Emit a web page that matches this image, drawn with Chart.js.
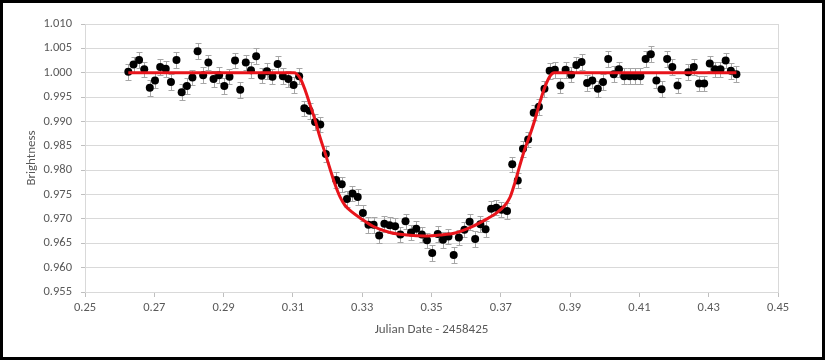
<!DOCTYPE html>
<html>
<head>
<meta charset="utf-8">
<script src="https://cdn.jsdelivr.net/npm/chart.js@4.4.1/dist/chart.umd.min.js"></script>
<style>
  body { margin: 0; background: #fff; }
  #wrap { position: relative; width: 825px; height: 360px; }
  #frame { position: absolute; left: 0; top: 0; width: 825px; height: 360px; box-sizing: border-box; border: 3px solid #000; pointer-events: none; }
  canvas { position: absolute; left: 0; top: 0; }
</style>
</head>
<body>
<div id="wrap">
  <canvas id="lightCurve" width="825" height="360"></canvas>
  <div id="frame"></div>
</div>
<script>
// tick labels
const xTicks = [0.25, 0.27, 0.29, 0.31, 0.33, 0.35, 0.37, 0.39, 0.41, 0.43, 0.45]
const yTicks = [0.955, 0.960, 0.965, 0.970, 0.975, 0.980, 0.985, 0.990, 0.995, 1.000, 1.005, 1.010]

// observations (Julian Date - 2458425, relative brightness)
const obsDate = [
  0.2625, 0.2640, 0.2656, 0.2671, 0.2687, 0.2702, 0.2717, 0.2733, 0.2748, 0.2764,
  0.2779, 0.2794, 0.2810, 0.2825, 0.2841, 0.2856, 0.2871, 0.2887, 0.2902, 0.2917,
  0.2933, 0.2948, 0.2964, 0.2979, 0.2994, 0.3010, 0.3025, 0.3041, 0.3056, 0.3071,
  0.3087, 0.3102, 0.3118, 0.3133, 0.3148, 0.3164, 0.3179, 0.3195,
  0.3225, 0.3241, 0.3256, 0.3272, 0.3287, 0.3302, 0.3318, 0.3333, 0.3349, 0.3364, 0.3379,
  0.3395, 0.3410, 0.3425, 0.3441, 0.3456, 0.3472, 0.3487, 0.3502, 0.3518, 0.3533,
  0.3549, 0.3564, 0.3579, 0.3595, 0.3610, 0.3626, 0.3641, 0.3656, 0.3672, 0.3687,
  0.3702, 0.3718, 0.3733, 0.3749, 0.3764, 0.3779, 0.3795, 0.3810, 0.3826, 0.3841,
  0.3856, 0.3872, 0.3887, 0.3903, 0.3918, 0.3933, 0.3949, 0.3964, 0.3980, 0.3995,
  0.4010, 0.4026, 0.4041, 0.4056, 0.4072, 0.4087, 0.4103, 0.4118, 0.4133, 0.4149,
  0.4164, 0.4180, 0.4195, 0.4210,
  0.4241, 0.4257, 0.4272, 0.4287, 0.4303, 0.4318, 0.4334, 0.4349, 0.4364, 0.4380
]
const obsBright = [
  1.0002, 1.0017, 1.0026, 1.0007, 0.9969, 0.9984, 1.0012, 1.0008, 0.9981, 1.0026,
  0.9960, 0.9973, 0.9990, 1.0044, 0.9995, 1.0021, 0.9987, 0.9995, 0.9973, 0.9992,
  1.0025, 0.9965, 1.0021, 1.0005, 1.0034, 0.9994, 1.0003, 0.9992, 1.0018, 0.9993,
  0.9987, 0.9975, 0.9993, 0.9927, 0.9922, 0.9899, 0.9894, 0.9833,
  0.9780, 0.9771, 0.9741, 0.9752, 0.9745, 0.9712, 0.9688, 0.9688, 0.9666, 0.9690, 0.9687,
  0.9685, 0.9668, 0.9695, 0.9672, 0.9680, 0.9668, 0.9656, 0.9630, 0.9669, 0.9657,
  0.9664, 0.9626, 0.9662, 0.9678, 0.9694, 0.9659, 0.9689, 0.9679, 0.9721, 0.9723,
  0.9719, 0.9716, 0.9812, 0.9779, 0.9844, 0.9863, 0.9918, 0.9930, 0.9967, 1.0004,
  1.0006, 0.9974, 1.0006, 0.9996, 1.0016, 1.0022, 0.9979, 0.9984, 0.9967, 0.9981,
  1.0028, 0.9997, 1.0007, 0.9993, 0.9993, 0.9993, 0.9993, 1.0028, 1.0038, 0.9984,
  0.9966, 1.0028, 1.0012, 0.9974,
  1.0001, 1.0012, 0.9978, 0.9978, 1.0019, 1.0007, 1.0007, 1.0025, 1.0004, 0.9997
]
const errBar = 0.0016

// fitted transit model
const modelDate = [
  0.2625, 0.3103, 0.3120, 0.3135, 0.3149, 0.3164, 0.3178, 0.3193, 0.3207, 0.3222,
  0.3236, 0.3250, 0.3271, 0.3294, 0.3331, 0.3380, 0.3429, 0.3481, 0.3525, 0.3568,
  0.3611, 0.3660, 0.3689, 0.3712, 0.3727, 0.3741, 0.3755, 0.3770, 0.3784, 0.3799,
  0.3813, 0.3828, 0.3842, 0.3854, 0.4380
]
const modelBright = [
  1.0000, 1.0000, 0.9990, 0.9965, 0.9935, 0.9903, 0.9868, 0.9835, 0.9803, 0.9770,
  0.9745, 0.9728, 0.9714, 0.9702, 0.9685, 0.9672, 0.9667, 0.9665, 0.9667, 0.9671,
  0.9682, 0.9700, 0.9713, 0.9728, 0.9745, 0.9775, 0.9810, 0.9845, 0.9872, 0.9905,
  0.9940, 0.9972, 0.9993, 1.0000, 1.0000
]

const textColor = "#595959"
const fontFamily = "Carlito, 'Liberation Sans Narrow', 'DejaVu Sans Condensed', 'Liberation Sans', sans-serif"

// grey frame round the plot area
const plotFrame = {
    id: "plotFrame",
    beforeDatasetsDraw(chart) {
        const { ctx, chartArea } = chart
        ctx.save()
        ctx.strokeStyle = "#d9d9d9"
        ctx.lineWidth = 1
        ctx.strokeRect(Math.round(chartArea.left) + 0.5, Math.round(chartArea.top) + 0.5,
            Math.round(chartArea.right - chartArea.left), Math.round(chartArea.bottom - chartArea.top))
        ctx.restore()
    }
}

// error bars under the dots
const errorBars = {
    id: "errorBars",
    beforeDatasetsDraw(chart) {
        const { ctx, scales } = chart
        ctx.save()
        ctx.strokeStyle = "#a6a6a6"
        ctx.lineWidth = 1
        obsDate.forEach((d, i) => {
            const px = Math.round(scales.x.getPixelForValue(d)) + 0.5
            const top = Math.round(scales.y.getPixelForValue(obsBright[i] + errBar)) + 0.5
            const bot = Math.round(scales.y.getPixelForValue(obsBright[i] - errBar)) + 0.5
            ctx.beginPath()
            ctx.moveTo(px, top)
            ctx.lineTo(px, bot)
            ctx.moveTo(px - 3, top)
            ctx.lineTo(px + 3, top)
            ctx.moveTo(px - 3, bot)
            ctx.lineTo(px + 3, bot)
            ctx.stroke()
        })
        ctx.restore()
    }
}

new Chart("lightCurve", {
    type: "scatter",
    data: {
        datasets: [
            {
                label: "model",
                type: "line",
                data: modelDate.map((d, i) => ({ x: d, y: modelBright[i] })),
                borderColor: "#e8141b",
                borderWidth: 3,
                pointRadius: 0,
                cubicInterpolationMode: "monotone",
                fill: false,
                order: 0
            },
            {
                label: "observed",
                data: obsDate.map((d, i) => ({ x: d, y: obsBright[i] })),
                backgroundColor: "#000",
                borderWidth: 0,
                pointRadius: 4,
                order: 1
            }
        ]
    },
    options: {
        responsive: false,
        animation: false,
        devicePixelRatio: 1,
        layout: { padding: { top: 24, right: 47, left: 0, bottom: 0 } },
        plugins: {
            legend: { display: false },
            tooltip: { enabled: false }
        },
        scales: {
            x: {
                type: "linear",
                min: 0.25,
                max: 0.45,
                afterBuildTicks: (scale) => { scale.ticks = xTicks.map(v => ({ value: v })) },
                afterFit: (scale) => { scale.height = 68 },
                grid: { drawOnChartArea: false, drawTicks: true, tickLength: 5, color: "#bfbfbf" },
                border: { color: "#bfbfbf" },
                ticks: {
                    color: textColor,
                    font: { family: fontFamily, size: 12.5 },
                    padding: 3,
                    maxRotation: 0,
                    callback: (v) => v.toFixed(2)
                },
                title: {
                    display: true,
                    text: "Julian Date - 2458425",
                    color: textColor,
                    font: { family: fontFamily, size: 13 },
                    padding: { top: 0, bottom: 22 }
                }
            },
            y: {
                min: 0.955,
                max: 1.010,
                afterBuildTicks: (scale) => { scale.ticks = yTicks.map(v => ({ value: v })) },
                afterFit: (scale) => { scale.width = 85 },
                grid: { color: "#d9d9d9", tickLength: 4, tickColor: "#bfbfbf" },
                border: { color: "#bfbfbf" },
                ticks: {
                    color: textColor,
                    font: { family: fontFamily, size: 12.5 },
                    padding: 9,
                    callback: (v) => v.toFixed(3)
                },
                title: {
                    display: true,
                    text: "Brightness",
                    color: textColor,
                    font: { family: fontFamily, size: 13 },
                    padding: { top: 24, bottom: 0 }
                }
            }
        }
    },
    plugins: [plotFrame, errorBars]
})
</script>
</body>
</html>
